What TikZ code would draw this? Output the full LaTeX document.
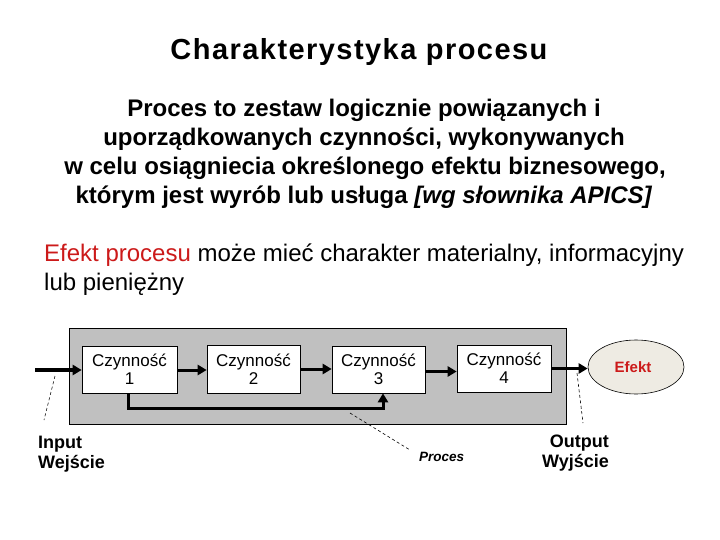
\documentclass[tikz,border=0pt]{standalone}
\usepackage{fontspec}
\setmainfont{Liberation Sans}
\usetikzlibrary{arrows.meta,shapes.geometric}
\definecolor{procgray}{HTML}{C0C0C0}
\definecolor{efektfill}{HTML}{EEEBE3}
\definecolor{efektred}{HTML}{CC1A1A}
\newcommand{\fsz}[1]{\fontsize{#1}{#1}\selectfont}
\tikzset{
  txt/.style={inner sep=0pt, anchor=base},
  actbox/.style={draw, fill=white, line width=0.6pt, inner sep=0pt, align=center,
    minimum width=94pt, minimum height=47pt, font=\fontsize{17}{18}\selectfont},
  flow/.style={line width=3pt, -{Triangle[length=9pt,width=10pt]}},
  leader/.style={line width=0.6pt, dash pattern=on 3pt off 2.5pt},
  lbl/.style={inner sep=0pt, align=left, font=\bfseries\fontsize{18}{20}\selectfont}
}
\begin{document}
\begin{tikzpicture}[x=1pt,y=-1pt]
\useasboundingbox (0,0) rectangle (720,540);
\fill[white] (0,0) rectangle (720,540);
% title
\node[txt] (title) at (359,60) {\addfontfeature{LetterSpace=5}\bfseries\fsz{29}Charakterystyka procesu};
% definition
\node[txt] (d1) at (364,117) {\bfseries\fsz{24}Proces to zestaw logicznie powiązanych i};
\node[txt] (d2) at (364,146) {\bfseries\fsz{24}uporządkowanych czynności, wykonywanych};
\node[txt] (d3) at (365,175) {\bfseries\fsz{24}w celu osiągniecia określonego efektu biznesowego,};
\node[txt] (d4) at (364,204) {\bfseries\fsz{24}którym jest wyrób lub usługa \textit{[wg słownika APICS]}};
% effect sentence
\node[txt, anchor=base west] (e1) at (44,261) {\fsz{24}\textcolor{efektred}{Efekt procesu} może mieć charakter materialny, informacyjny};
\node[txt, anchor=base west] (e2) at (44,290) {\fsz{24}lub pieniężny};
% process frame
\node[draw, fill=procgray, line width=0.6pt, minimum width=497pt, minimum height=96pt, inner sep=0pt] (proc) at (317.5,376) {};
% activities
\node[actbox, minimum width=95pt] (c1) at (129.5,369.5) {Czynność\\1};
\node[actbox, minimum width=93pt, minimum height=48pt] (c2) at (253.5,369) {Czynność\\2};
\node[actbox, minimum width=93pt] (c3) at (378.5,369.5) {Czynność\\3};
\node[actbox] (c4) at (504,368.5) {Czynność\\4};
% effect
\node[draw, ellipse, fill=efektfill, line width=0.6pt, minimum width=96pt, minimum height=54pt, inner sep=0pt,
  font=\bfseries\fontsize{15}{15}\selectfont, text=efektred] (ef) at (636,367) {Efekt\hspace*{6pt}};
% flows
\coordinate (inp) at (35,370);
\draw[flow, line width=4pt] (inp) -- (inp -| c1.west);
\draw[flow] ([yshift=-0.5pt]c1.east) -- ([yshift=-0.5pt]c1.east -| c2.west);
\draw[flow] (c2.east) -- (c2.east -| c3.west);
\draw[flow] ([yshift=-2pt]c3.east) -- ([yshift=-2pt]c3.east -| c4.west);
\draw[flow] (c4.east) -- (c4.east -| ef.west);
\draw[flow] ([xshift=-1.5pt]c1.south) -- ++(0,15) -| ([xshift=4.5pt]c3.south);
% leaders and labels
\coordinate (inA) at (55,376);
\coordinate (inB) at (44,420);
\draw[leader] (inA) -- (inB);
\node[lbl, anchor=base west] (inlbl) at (38,468) {Input\\Wejście};
\coordinate (prA) at (350,413);
\coordinate (prB) at (410,450);
\draw[leader] (prA) -- (prB);
\node[txt, anchor=base west] (prlbl) at (419,461) {\bfseries\itshape\fsz{13.5}Proces};
\coordinate (ouA) at (577,373);
\coordinate (ouB) at (583,423);
\draw[leader] (ouA) -- (ouB);
\node[lbl, align=right, anchor=base east] (oulbl) at (609,467) {Output\\Wyjście};
\end{tikzpicture}
\end{document}
